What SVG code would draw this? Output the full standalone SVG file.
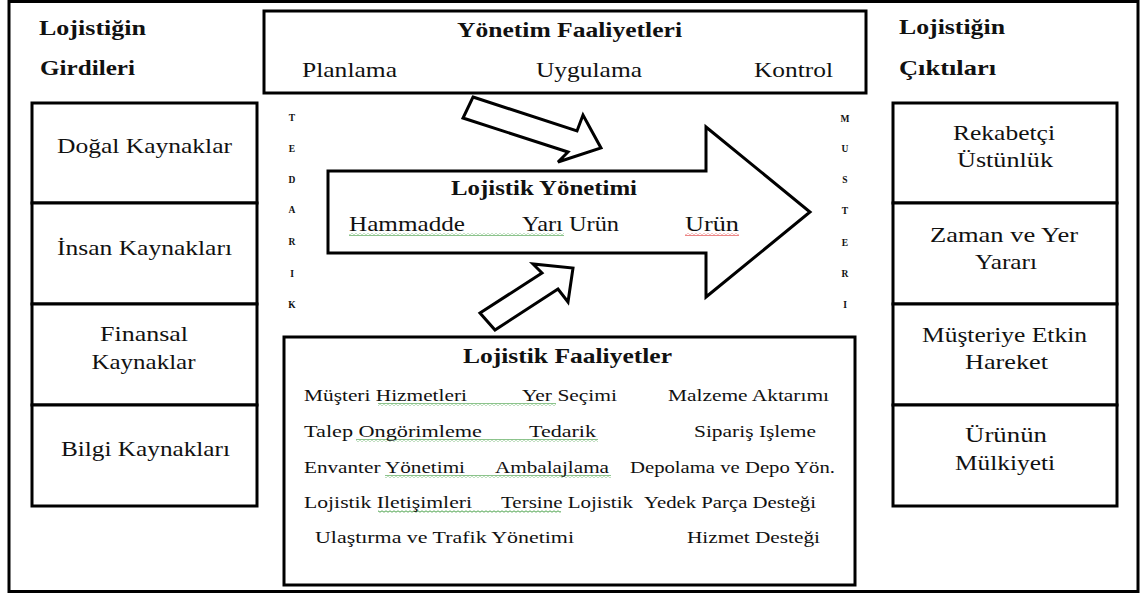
<svg xmlns="http://www.w3.org/2000/svg" width="1146" height="596" viewBox="0 0 1146 596" font-family="Liberation Serif, Times New Roman, serif">
  <style>
    .frame { fill: #fff; stroke: #000; stroke-width: 3; }
    .box { fill: #fff; stroke: #000; stroke-width: 3; }
    .arrow { fill: #fff; stroke: #000; stroke-width: 3; stroke-linejoin: miter; }
    .t { font-size: 22px; fill: #111; }
    .b { font-weight: bold; }
    .s { font-size: 17.5px; }
    .ltr { font-size: 9.5px; font-weight: bold; fill: #111; text-anchor: middle; }
    .mid { text-anchor: middle; }
  </style>
  <defs>
    <pattern id="wave-green" x="0" y="0" width="4" height="3" patternUnits="userSpaceOnUse">
      <path d="M0 2.2 L2 0.8 L4 2.2" fill="none" stroke="#3a9a3a" stroke-width="0.9"/>
    </pattern>
    <pattern id="wave-red" x="0" y="0" width="4" height="3" patternUnits="userSpaceOnUse">
      <path d="M0 2.2 L2 0.8 L4 2.2" fill="none" stroke="#e03030" stroke-width="0.9"/>
    </pattern>
  </defs>

  <!-- outer frame -->
  <rect class="frame" x="9" y="1.5" width="1129" height="590"/>

  <!-- column headings -->
  <g id="girdiler-baslik">
    <text class="t b" x="39" y="35" textLength="107" lengthAdjust="spacingAndGlyphs">Lojistiğin</text>
    <text class="t b" x="40" y="75" textLength="95" lengthAdjust="spacingAndGlyphs">Girdileri</text>
  </g>
  <g id="ciktilar-baslik">
    <text class="t b" x="899" y="34" textLength="106" lengthAdjust="spacingAndGlyphs">Lojistiğin</text>
    <text class="t b" x="899" y="75" textLength="97" lengthAdjust="spacingAndGlyphs">Çıktıları</text>
  </g>

  <!-- management activities -->
  <g id="yonetim-faaliyetleri">
    <rect class="box" x="264" y="11" width="602" height="82"/>
    <text class="t b" x="457" y="37" textLength="225" lengthAdjust="spacingAndGlyphs">Yönetim Faaliyetleri</text>
    <text class="t" x="302" y="77" textLength="95" lengthAdjust="spacingAndGlyphs">Planlama</text>
    <text class="t" x="536" y="77" textLength="106" lengthAdjust="spacingAndGlyphs">Uygulama</text>
    <text class="t" x="754" y="77" textLength="79" lengthAdjust="spacingAndGlyphs">Kontrol</text>
  </g>

  <!-- inputs -->
  <g id="dogal-kaynaklar">
    <rect class="box" x="32" y="103" width="225" height="100"/>
    <text class="t mid" x="144.5" y="153" textLength="175" lengthAdjust="spacingAndGlyphs">Doğal Kaynaklar</text>
  </g>
  <g id="insan-kaynaklari">
    <rect class="box" x="32" y="203" width="225" height="101"/>
    <text class="t mid" x="144.5" y="255" textLength="175" lengthAdjust="spacingAndGlyphs">İnsan Kaynakları</text>
  </g>
  <g id="finansal-kaynaklar">
    <rect class="box" x="32" y="304" width="225" height="101"/>
    <text class="t mid" x="144" y="341" textLength="88" lengthAdjust="spacingAndGlyphs">Finansal</text>
    <text class="t mid" x="143.5" y="369" textLength="104" lengthAdjust="spacingAndGlyphs">Kaynaklar</text>
  </g>
  <g id="bilgi-kaynaklari">
    <rect class="box" x="32" y="405" width="225" height="101"/>
    <text class="t mid" x="145.5" y="456" textLength="169" lengthAdjust="spacingAndGlyphs">Bilgi Kaynakları</text>
  </g>

  <!-- outputs -->
  <g id="rekabetci-ustunluk">
    <rect class="box" x="893" y="103" width="224" height="100"/>
    <text class="t mid" x="1004" y="140" textLength="102" lengthAdjust="spacingAndGlyphs">Rekabetçi</text>
    <text class="t mid" x="1005" y="167" textLength="96" lengthAdjust="spacingAndGlyphs">Üstünlük</text>
  </g>
  <g id="zaman-yer-yarari">
    <rect class="box" x="893" y="203" width="224" height="101"/>
    <text class="t mid" x="1004" y="242" textLength="148" lengthAdjust="spacingAndGlyphs">Zaman ve Yer</text>
    <text class="t mid" x="1006" y="269" textLength="62" lengthAdjust="spacingAndGlyphs">Yararı</text>
  </g>
  <g id="musteriye-etkin-hareket">
    <rect class="box" x="893" y="304" width="224" height="101"/>
    <text class="t mid" x="1004.5" y="342" textLength="165" lengthAdjust="spacingAndGlyphs">Müşteriye Etkin</text>
    <text class="t mid" x="1006.5" y="369" textLength="83" lengthAdjust="spacingAndGlyphs">Hareket</text>
  </g>
  <g id="urunun-mulkiyeti">
    <rect class="box" x="893" y="405" width="224" height="101"/>
    <text class="t mid" x="1006" y="442" textLength="82" lengthAdjust="spacingAndGlyphs">Ürünün</text>
    <text class="t mid" x="1005" y="470" textLength="100" lengthAdjust="spacingAndGlyphs">Mülkiyeti</text>
  </g>

  <!-- supplier / customer side labels -->
  <g id="tedarik">
    <text class="ltr" x="292" y="121">T</text>
    <text class="ltr" x="292" y="152">E</text>
    <text class="ltr" x="292" y="183">D</text>
    <text class="ltr" x="292" y="213">A</text>
    <text class="ltr" x="292" y="245">R</text>
    <text class="ltr" x="292" y="277">I</text>
    <text class="ltr" x="292" y="308">K</text>
  </g>
  <g id="musteri">
    <text class="ltr" x="845" y="122">M</text>
    <text class="ltr" x="845" y="152">U</text>
    <text class="ltr" x="845" y="183">S</text>
    <text class="ltr" x="845" y="214">T</text>
    <text class="ltr" x="845" y="246">E</text>
    <text class="ltr" x="845" y="277">R</text>
    <text class="ltr" x="845" y="308">I</text>
  </g>

  <!-- logistics management flow (block arrow) -->
  <g id="lojistik-yonetimi">
    <polygon class="arrow" points="328,171 706,171 706,127 810,212 706,297 706,253 328,253"/>
    <text class="t b" x="451" y="195" textLength="186" lengthAdjust="spacingAndGlyphs" font-size="19">Lojistik Yönetimi</text>
    <rect x="349" y="233" width="215" height="3" fill="url(#wave-green)"/>
    <rect x="685" y="233" width="54" height="3" fill="url(#wave-red)"/>
    <text class="t" x="349" y="231" textLength="116" lengthAdjust="spacingAndGlyphs" font-size="20">Hammadde</text>
    <text class="t" x="522" y="231" textLength="97" lengthAdjust="spacingAndGlyphs" font-size="20">Yarı Urün</text>
    <text class="t" x="685" y="231" textLength="54" lengthAdjust="spacingAndGlyphs" font-size="20">Urün</text>
  </g>

  <!-- logistics activities -->
  <g id="lojistik-faaliyetler">
    <rect class="box" x="284" y="337" width="571" height="248"/>
    <text class="t b" x="463" y="363" textLength="209" lengthAdjust="spacingAndGlyphs">Lojistik Faaliyetler</text>

    <rect x="378" y="403" width="178" height="3" fill="url(#wave-green)"/>
    <rect x="356" y="439" width="242" height="3" fill="url(#wave-green)"/>
    <rect x="385" y="475" width="226" height="3" fill="url(#wave-green)"/>
    <rect x="378" y="510" width="183" height="3" fill="url(#wave-green)"/>

    <text class="t s" x="304" y="401" textLength="163" lengthAdjust="spacingAndGlyphs">Müşteri Hizmetleri</text>
    <text class="t s" x="522" y="401" textLength="95" lengthAdjust="spacingAndGlyphs">Yer Seçimi</text>
    <text class="t s" x="668" y="401" textLength="161" lengthAdjust="spacingAndGlyphs">Malzeme Aktarımı</text>

    <text class="t s" x="304" y="437" textLength="178" lengthAdjust="spacingAndGlyphs">Talep Ongörimleme</text>
    <text class="t s" x="529" y="437" textLength="67" lengthAdjust="spacingAndGlyphs">Tedarik</text>
    <text class="t s" x="694" y="437" textLength="122" lengthAdjust="spacingAndGlyphs">Sipariş Işleme</text>

    <text class="t s" x="304" y="473" textLength="161" lengthAdjust="spacingAndGlyphs">Envanter Yönetimi</text>
    <text class="t s" x="495" y="473" textLength="114" lengthAdjust="spacingAndGlyphs">Ambalajlama</text>
    <text class="t s" x="630" y="473" textLength="205" lengthAdjust="spacingAndGlyphs">Depolama ve Depo Yön.</text>

    <text class="t s" x="304" y="508" textLength="168" lengthAdjust="spacingAndGlyphs">Lojistik Iletişimleri</text>
    <text class="t s" x="501" y="508" textLength="132" lengthAdjust="spacingAndGlyphs">Tersine Lojistik</text>
    <text class="t s" x="644" y="508" textLength="172" lengthAdjust="spacingAndGlyphs">Yedek Parça Desteği</text>

    <text class="t s" x="315" y="543" textLength="259" lengthAdjust="spacingAndGlyphs">Ulaştırma ve Trafik Yönetimi</text>
    <text class="t s" x="687" y="543" textLength="133" lengthAdjust="spacingAndGlyphs">Hizmet Desteği</text>
  </g>

  <!-- block arrows feeding the management flow -->
  <g id="connectors">
    <polygon class="arrow" points="473,97 577,131 583,115 601,148 558,162 568,152 463,118"/>
    <polygon class="arrow" points="480,313 542,273 533,264 573,268 568,302 558,289 495,330"/>
  </g>
</svg>
